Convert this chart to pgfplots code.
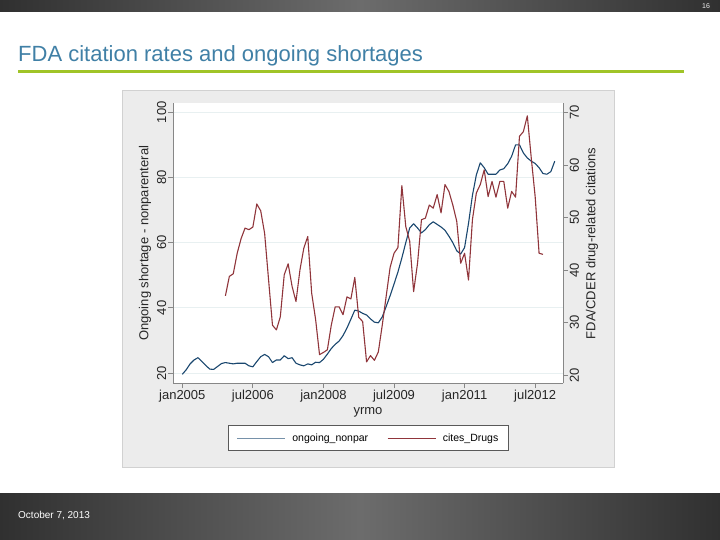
\documentclass[border=0pt]{standalone}
\usepackage{pgfplots}
\pgfplotsset{compat=1.18}
\usepackage{pgfplotstable}
\usepackage{fontspec}
\setmainfont{Liberation Sans}
\definecolor{navy}{RGB}{26,71,111}
\definecolor{maroon}{RGB}{144,53,59}
\definecolor{gridc}{RGB}{232,240,241}
\definecolor{axc}{RGB}{135,135,135}
\definecolor{panel}{RGB}{236,236,236}
\definecolor{titlec}{RGB}{64,128,166}
\definecolor{greenc}{RGB}{160,196,40}
\definecolor{bar1}{RGB}{48,48,48}
\definecolor{bar2}{RGB}{108,108,108}

\pgfplotstableread{
m v
0 19.6
1 21.0
2 22.8
3 24.0
4 24.7
5 23.5
6 22.3
7 21.2
8 21.1
9 22.0
10 22.9
11 23.2
12 23.0
13 22.8
14 23.0
15 23.0
16 23.0
17 22.2
18 21.9
19 23.5
20 25.0
21 25.7
22 25.0
23 23.2
24 24.0
25 24.0
26 25.3
27 24.4
28 24.7
29 23.0
30 22.5
31 22.2
32 22.8
33 22.5
34 23.3
35 23.2
36 24.2
37 25.8
38 27.5
39 28.8
40 29.8
41 31.5
42 33.8
43 36.5
44 39.3
45 39.0
46 38.3
47 37.8
48 36.6
49 35.6
50 35.4
51 37.2
52 40.4
53 43.7
54 47.3
55 51.0
56 55.3
57 60.0
58 64.5
59 65.8
60 64.5
61 63.0
62 64.0
63 65.5
64 66.4
65 65.6
66 64.8
67 63.8
68 62.0
69 60.0
70 57.5
71 56.5
72 58.5
73 65.9
74 74.5
75 80.8
76 84.5
77 83.0
78 81.0
79 81.0
80 81.0
81 82.3
82 82.7
83 84.2
84 86.5
85 90.0
86 90.0
87 87.5
88 86.0
89 85.0
90 84.3
91 83.0
92 81.2
93 81.0
94 81.8
95 85.0
}\ongoing

\pgfplotstableread{
m v
11 35.1
12 38.8
13 39.3
14 43.2
15 46.0
16 48.0
17 47.7
18 48.2
19 52.6
20 51.3
21 47.0
22 38.2
23 29.5
24 28.6
25 31.1
26 39.1
27 41.2
28 36.9
29 34.0
30 40.0
31 44.2
32 46.4
33 35.6
34 30.6
35 23.9
36 24.3
37 24.8
38 29.5
39 33.0
40 33.0
41 31.5
42 34.9
43 34.5
44 38.6
45 31.0
46 30.2
47 22.5
48 23.7
49 22.8
50 24.4
51 29.5
52 35.0
53 40.5
54 43.2
55 44.3
56 56.1
57 48.3
58 45.5
59 35.9
60 41.3
61 49.6
62 49.9
63 52.4
64 51.8
65 54.4
66 50.9
67 56.3
68 55.0
69 52.4
70 49.3
71 41.3
72 43.2
73 38.1
74 49.6
75 54.7
76 56.3
77 59.1
78 54.0
79 56.9
80 53.9
81 56.9
82 56.9
83 51.8
84 55.0
85 53.9
86 65.5
87 66.4
88 69.4
89 61.4
90 54.0
91 43.2
92 43.0
}\cites

\begin{document}
\begin{tikzpicture}
\useasboundingbox (0pt,0pt) rectangle (720pt,-540pt);
\fill[white] (0pt,0pt) rectangle (720pt,-540pt);
% top bar
\shade[left color=bar1, right color=bar1, middle color=bar2] (0pt,0pt) rectangle (720pt,-12pt);
\node[text=white!90!gray, font=\fontsize{7}{8}\selectfont, inner sep=0pt] at (706pt,-6pt) {16};
% title
\node[anchor=west, text=titlec, font=\fontsize{22}{24}\selectfont, inner sep=0pt] at (18pt,-56pt) {FDA citation rates and ongoing shortages};
\fill[greenc] (18pt,-70.5pt) rectangle (684pt,-73.5pt);
% bottom bar
\shade[left color=bar1, right color=bar1, middle color=bar2] (0pt,-493pt) rectangle (720pt,-540pt);
\node[anchor=west, text=white, font=\fontsize{10}{12}\selectfont, inner sep=0pt] at (18pt,-516pt) {October 7, 2013};
% chart panel
\filldraw[fill=panel, draw=black!18, line width=0.6pt] (122pt,-90pt) rectangle (614pt,-467pt);

\begin{axis}[
  at={(173pt,-383.3pt)}, anchor=south west,
  scale only axis, width=390pt, height=280pt,
  xmin=-2.37, xmax=97.1, ymin=16.84, ymax=102.76,
  axis x line*=bottom, axis y line*=left,
  axis line style={axc, line width=0.8pt, -},
  every outer x axis line/.append style={-},
  every outer y axis line/.append style={-},
  axis background/.style={fill=white},
  xtick={0,18,36,54,72,90},
  xticklabels={jan2005,jul2006,jan2008,jul2009,jan2011,jul2012},
  ytick={20,40,60,80,100},
  ymajorgrids, grid style={gridc, line width=0.8pt},
  tick align=outside, major tick length=5pt,
  tick style={axc, line width=0.8pt},
  yticklabel style={rotate=90, anchor=south, inner sep=1.5pt},
  xticklabel style={anchor=north, inner sep=2pt},
  ticklabel style={font=\fontsize{13}{14}\selectfont, text=black!85},
  /pgf/number format/assume math mode=true,
  xlabel={yrmo}, ylabel={Ongoing shortage - nonparenteral},
  every axis x label/.style={at={(axis description cs:0.5,-0.1025)}, anchor=center, font=\fontsize{13}{14}\selectfont, text=black!85},
  every axis y label/.style={at={(axis description cs:-0.0718,0.5)}, rotate=90, anchor=center, font=\fontsize{13}{14}\selectfont, text=black!85},
  clip=false,
]
\addplot[navy, line width=1.1pt, line join=round] table[x=m, y=v] {\ongoing};
\end{axis}

\begin{axis}[
  at={(173pt,-383.3pt)}, anchor=south west,
  scale only axis, width=390pt, height=280pt,
  xmin=-2.37, xmax=97.1, ymin=18.42, ymax=71.79,
  axis x line=none, axis y line*=right,
  axis line style={axc, line width=0.8pt, -},
  every outer y axis line/.append style={-},
  ytick={20,30,40,50,60,70},
  tick align=outside, major tick length=5pt,
  tick style={axc, line width=0.8pt},
  yticklabel style={rotate=90, anchor=north, inner sep=1.5pt},
  ticklabel style={font=\fontsize{13}{14}\selectfont, text=black!85},
  /pgf/number format/assume math mode=true,
  ylabel={FDA/CDER drug-related citations},
  every axis y label/.style={at={(axis description cs:1.0744,0.5)}, rotate=90, anchor=center, font=\fontsize{13}{14}\selectfont, text=black!85},
  legend style={at={(axis description cs:0.5013,-0.1954)}, anchor=center,
    legend columns=2, draw=black!65, line width=0.6pt, fill=white,
    font=\fontsize{10.5}{12}\selectfont, inner xsep=8pt, inner ysep=6pt,
    /tikz/every odd column/.append style={column sep=5pt},
    /tikz/every even column/.append style={column sep=17pt}},
  legend image code/.code={\draw[#1, line width=0.6pt] (0pt,0pt) -- (48pt,0pt);},
  clip=false,
]
\addlegendimage{navy!60}
\addlegendentry{ongoing\_nonpar}
\addplot[maroon, line width=1.1pt, line join=round] table[x=m, y=v] {\cites};
\addlegendentry{cites\_Drugs}
\end{axis}
\end{tikzpicture}
\end{document}
